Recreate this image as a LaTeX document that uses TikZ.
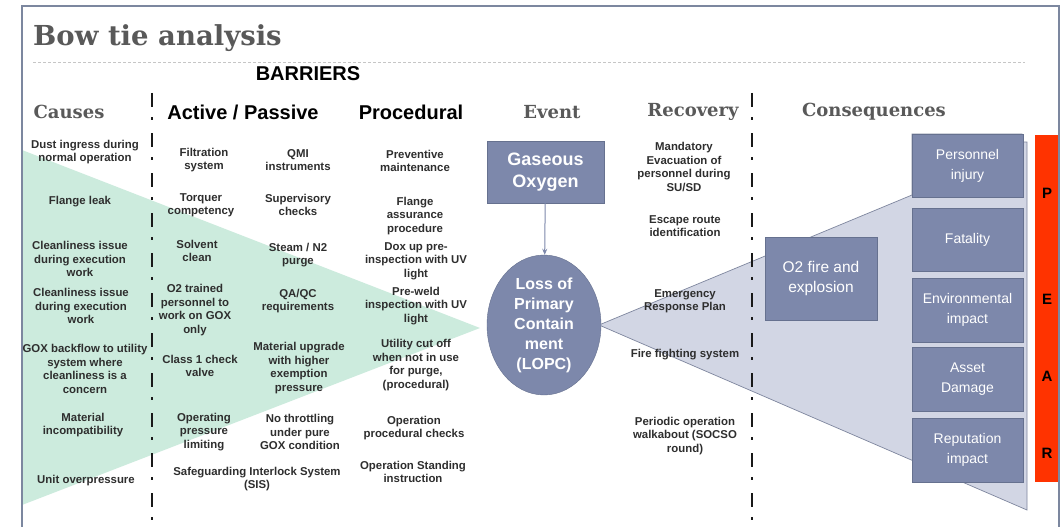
\documentclass[tikz,border=0pt]{standalone}
\usepackage{fontspec}
\setmainfont{Liberation Sans}
\newfontfamily\slab{DejaVu Serif}
\usetikzlibrary{arrows.meta,shapes.geometric}

\definecolor{boxfill}{HTML}{7D88AB}
\definecolor{boxdraw}{HTML}{66718F}
\definecolor{lav}{HTML}{D2D6E4}
\definecolor{lavdraw}{HTML}{7E869E}
\definecolor{mint}{HTML}{CCEBDD}
\definecolor{redbar}{HTML}{FF3300}
\definecolor{titlegrey}{HTML}{595959}
\definecolor{framec}{HTML}{7C879F}
\definecolor{labelc}{HTML}{2E2E2E}

\begin{document}
\begin{tikzpicture}[x=1pt,y=-1pt,
  lbl/.style={align=center, text=labelc, font=\fontsize{11.4}{13.4}\selectfont\bfseries, inner sep=0pt},
  hdrsans/.style={font=\fontsize{20}{24}\selectfont\bfseries, text=black, inner sep=0pt},
  hdrslab/.style={font=\slab\fontsize{18}{22}\selectfont\bfseries, text=titlegrey, inner sep=0pt},
  cbox/.style={draw=boxdraw, fill=boxfill, text=white, align=center, minimum width=111pt, minimum height=63pt, inner sep=0pt, font=\fontsize{14}{20}\selectfont},
  barrierline/.style={line width=2.6pt, dash pattern=on 14pt off 10pt on 3pt off 13pt, draw=black!90},
  pear/.style={font=\fontsize{15}{18}\selectfont\bfseries, text=black, inner sep=0pt}
]
\useasboundingbox (0,0) rectangle (1061,527);
\fill[white] (0,0) rectangle (1061,527);

% shaded wedges
\fill[mint] (22,150) -- (480,328) -- (22,505) -- cycle;
\filldraw[fill=lav, draw=lavdraw, line width=0.7pt] (599,325) -- (912,195) -- (912,134) -- (1022,134) -- (1022,142) -- (1027,142) -- (1027,510) -- cycle;

% frame
\draw[framec, line width=1.8pt] (22,527) -- (22,6) -- (1059,6) -- (1059,527);

% title
\node[font=\slab\fontsize{27.5}{30}\selectfont\bfseries, text=titlegrey, anchor=west, inner sep=0pt] (title) at (33,38) {Bow tie analysis};
\coordinate (rulea) at (33,62);
\coordinate (ruleb) at (1025,62);
\draw[gray!45, line width=0.6pt, dash pattern=on 3pt off 2pt] (rulea) -- (ruleb);

% barrier lines
\coordinate (bla) at (152,93);
\coordinate (blb) at (152,527);
\coordinate (bra) at (752,93);
\coordinate (brb) at (752,527);
\draw[barrierline] (bla) -- (blb);
\draw[barrierline] (bra) -- (brb);

% headers
\node[hdrsans] (barriers) at (308,74) {BARRIERS};
\node[hdrslab] (causes) at (69,112) {Causes};
\node[hdrsans] (active) at (243,112) {Active / Passive};
\node[hdrsans] (proc) at (411,112) {Procedural};
\node[hdrslab] (event) at (552,112) {Event};
\node[hdrslab] (recovery) at (693,112) {Recovery};
\node[hdrslab] (conseq) at (874,112) {Consequences};

% causes
\node[lbl] (c1) at (85,152) {Dust ingress during\\normal operation};
\node[lbl] (c2) at (80,202) {Flange leak};
\node[lbl] (c3) at (80,259) {Cleanliness issue\\during execution\\work};
\node[lbl] (c4) at (81,306) {Cleanliness issue\\during execution\\work};
\node[lbl] (c5) at (85,369) {GOX backflow to utility\\system where\\cleanliness is a\\concern};
\node[lbl] (c6) at (83,425) {Material\\incompatibility};
\node[lbl] (c7) at (86,481) {Unit overpressure};

% active / passive
\node[lbl] (a1) at (204,160) {Filtration\\system};
\node[lbl] (a2) at (201,205) {Torquer\\competency};
\node[lbl] (a3) at (197,251) {Solvent\\clean};
\node[lbl] (a4) at (195,310) {O2 trained\\personnel to\\work on GOX\\only};
\node[lbl] (a5) at (200,366) {Class 1 check\\valve};
\node[lbl] (a6) at (204,432) {Operating\\pressure\\limiting};
\node[lbl] (a7) at (257,479) {Safeguarding Interlock System\\(SIS)};
\node[lbl] (p1) at (298,160) {QMI\\instruments};
\node[lbl] (p2) at (298,205) {Supervisory\\checks};
\node[lbl] (p3) at (298,255) {Steam / N2\\purge};
\node[lbl] (p4) at (298,301) {QA/QC\\requirements};
\node[lbl] (p5) at (299,368) {Material upgrade\\with higher\\exemption\\pressure};
\node[lbl] (p6) at (300,432) {No throttling\\under pure\\GOX condition};

% procedural
\node[lbl] (r1) at (415,161) {Preventive\\maintenance};
\node[lbl] (r2) at (415,216) {Flange\\assurance\\procedure};
\node[lbl] (r3) at (416,261) {Dox up pre-\\inspection with UV\\light};
\node[lbl] (r4) at (416,306) {Pre-weld\\inspection with UV\\light};
\node[lbl] (r5) at (416,365) {Utility cut off\\when not in use\\for purge,\\(procedural)};
\node[lbl] (r6) at (414,428) {Operation\\procedural checks};
\node[lbl] (r7) at (413,472) {Operation Standing\\instruction};

% event
\node[draw=boxdraw, fill=boxfill, text=white, minimum width=117pt, minimum height=62pt, inner sep=0pt, align=center, font=\fontsize{18}{22}\selectfont\bfseries] (gox) at (545.5,172) {Gaseous\\Oxygen};
\node[ellipse, draw=boxdraw, fill=boxfill, text=white, minimum width=114pt, minimum height=140pt, inner sep=0pt, align=center, font=\fontsize{16}{20}\selectfont\bfseries] (lopc) at (544,325) {Loss of\\Primary\\Contain\\ment\\(LOPC)};
\draw[-{Stealth[length=6pt,width=5pt]}, draw=boxfill, line width=1pt] (gox) -- (lopc);

% recovery
\node[lbl] (v1) at (684,167) {Mandatory\\Evacuation of\\personnel during\\SU/SD};
\node[lbl] (v2) at (685,226) {Escape route\\identification};
\node[lbl] (v3) at (685,301) {Emergency\\Response Plan};
\node[lbl] (v4) at (685,355) {Fire fighting system};
\node[lbl] (v5) at (685,436) {Periodic operation\\walkabout (SOCSO\\round)};

% consequences
\node[cbox, minimum width=112pt, minimum height=83pt, font=\fontsize{15.5}{20}\selectfont] (fire) at (821,278.5) {O2 fire and\\explosion};
\node[cbox] (k1) at (967.5,165.5) {Personnel\\injury};
\node[cbox] (k2) at (967.5,239.5) {Fatality};
\node[cbox, minimum height=64pt] (k3) at (967.5,310) {Environmental\\impact};
\node[cbox, minimum height=64pt] (k4) at (967.5,379) {Asset\\Damage};
\node[cbox, minimum height=64pt] (k5) at (967.5,450) {Reputation\\impact};

% PEAR bar
\node[fill=redbar, minimum width=23pt, minimum height=347pt, inner sep=0pt] (bar) at (1046.5,308.5) {};
\node[pear] (lp) at (1047,193) {P};
\node[pear] (le) at (1047,299) {E};
\node[pear] (la) at (1047,376) {A};
\node[pear] (lr) at (1047,453) {R};
\end{tikzpicture}
\end{document}
